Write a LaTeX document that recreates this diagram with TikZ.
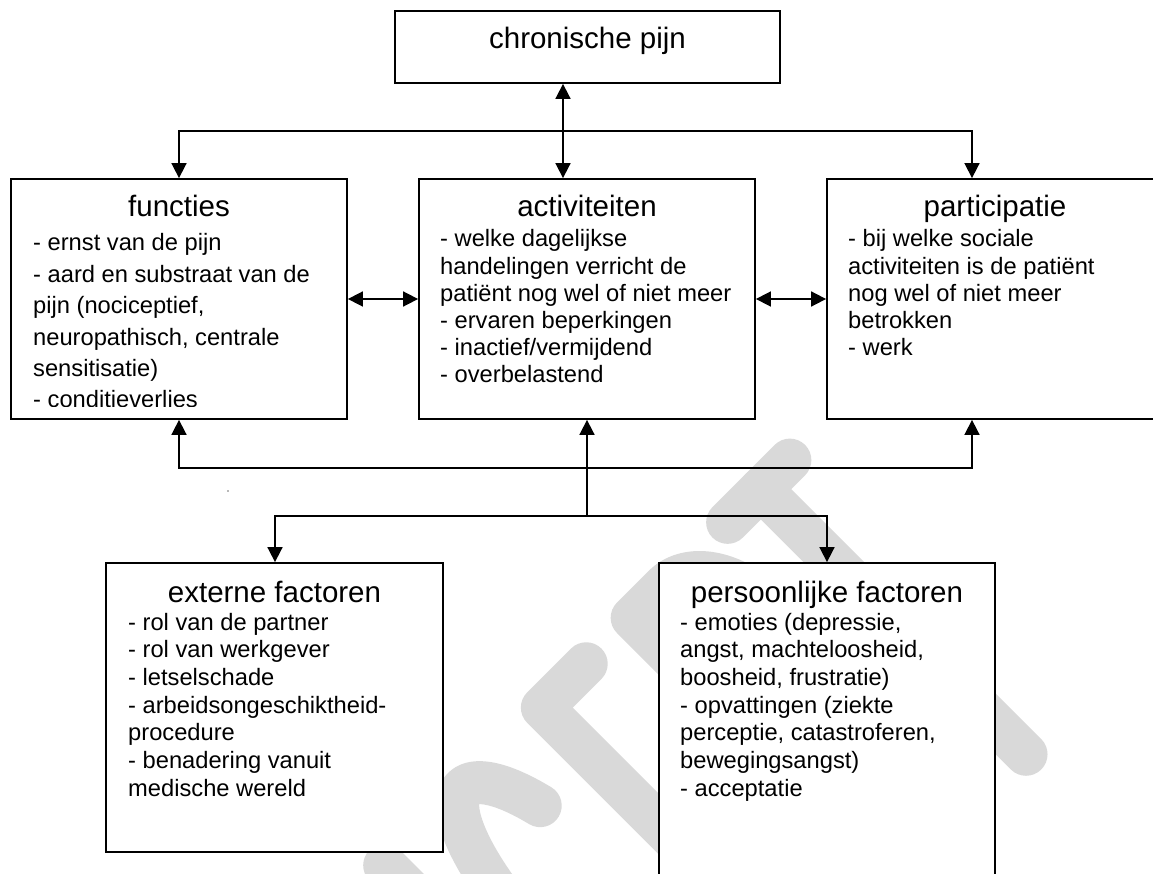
\documentclass[tikz,border=0pt]{standalone}
\usepackage{fontspec}
\setmainfont{Liberation Sans}
\usetikzlibrary{arrows.meta}
\newcommand\txtblock[2]{\vtop{\baselineskip=#1\relax #2}}
\tikzset{
  box/.style={draw=black, line width=1.8pt, fill=white, rectangle, inner sep=0pt},
  conn/.style={line width=1.7pt, draw=black, line cap=rect},
  arr/.style={conn, -{Triangle[length=15pt,width=15pt]}},
  darr/.style={conn, {Triangle[length=15pt,width=15pt]}-{Triangle[length=15pt,width=15pt]}},
  ttl/.style={anchor=base, inner sep=0pt, font=\fontsize{29.5}{35}\selectfont},
  body/.style={anchor=base west, inner sep=0pt, font=\fontsize{23.7}{28}\selectfont},
  wm/.style={draw=black!15, line width=43pt, line cap=round, line join=round},
}
\begin{document}
\begin{tikzpicture}[x=1pt,y=-1pt]
\useasboundingbox (0,0) rectangle (1153,874);
\clip (0,0) rectangle (1153,874);
\fill[white] (0,0) rectangle (1153,874);

% watermark (CONCEPT)
\begin{scope}[shift={(1043,767)}, x={(0.7071pt,0.7071pt)}, y={(-0.7071pt,0.7071pt)}]
  \draw[wm] (-645,21) -- (-645,396) -- (-535,21) -- (-535,396);
  \draw[wm] plot[domain=40:320, samples=60, smooth] ({-425+55*cos(\x)},{208+187*sin(\x)});
  \draw[wm] (-250,396) -- (-312,396) -- (-312,21) -- (-250,21);
  \draw[wm] (-312,208) -- (-258,208);
  \draw[wm] (-185,21) -- (-185,396) -- (-140,396)
    -- plot[domain=90:-90, samples=40, smooth] ({-140+60*cos(\x)},{311+85*sin(\x)}) -- (-185,226);
  \draw[wm] (-50,396) -- (38,396);
  \draw[wm] (-3,396) -- (-3,21);
\end{scope}

% stray dot
\fill[black!55] (228,491) circle (0.8pt);

% connector coordinates
\coordinate (cm) at (563,0);
\coordinate (tl) at (179,131);
\coordinate (tr) at (972,131);
\coordinate (bl) at (179,468);
\coordinate (br) at (972,468);
\coordinate (hub) at (587,516);
\coordinate (hl) at (275,516);
\coordinate (hr) at (827,516);

% connectors (drawn under boxes)
\draw[conn] (tl) -- (tr);
\draw[conn] (bl) -- (br);
\draw[conn] (hl) -- (hr);

% boxes
\node[box, minimum width=385pt, minimum height=72pt] (chron) at (587.5,47) {};
\node[box, minimum width=336pt, minimum height=240pt] (func) at (179,299) {};
\node[box, minimum width=336pt, minimum height=240pt] (act) at (587,299) {};
\node[box, minimum width=336pt, minimum height=240pt] (part) at (995,299) {};
\node[box, minimum width=337pt, minimum height=289pt] (ext) at (274.5,707.5) {};
\node[box, minimum width=336pt, minimum height=340pt] (pers) at (827,733) {};

% arrows
\draw[darr] (chron.south -| cm) -- (act.north -| cm);
\draw[arr] (tl) -- (func.north);
\draw[arr] (tr) -- (tr |- part.north);
\draw[darr] (func.east) -- (act.west);
\draw[darr] (act.east) -- (part.west);
\draw[arr] (bl) -- (func.south);
\draw[arr] (br) -- (br |- part.south);
\draw[arr] (hub) -- (act.south);
\draw[arr] (hl) -- (hl |- ext.north);
\draw[arr] (hr) -- (pers.north);

% titles
\node[ttl] (chront) at (587.5,49) {chronische pijn};
\node[ttl] (funct) at (179,217) {functies};
\node[ttl] (actt) at (587,217) {activiteiten};
\node[ttl] (partt) at (995,217) {participatie};
\node[ttl] (extt) at (274.5,602) {externe factoren};
\node[ttl] (perst) at (827,602) {persoonlijke factoren};

% body texts
\begin{scope}
  \clip (11,180) rectangle (347,406);
  \node[body] (funcb) at (33,251) {\txtblock{31.4pt}{%
    \hbox{- ernst van de pijn}%
    \hbox{- aard en substraat van de}%
    \hbox{pijn (nociceptief,}%
    \hbox{neuropathisch, centrale}%
    \hbox{sensitisatie)}%
    \hbox{- conditieverlies}}};
\end{scope}
\node[body] (actb) at (440,247) {\txtblock{27.2pt}{%
  \hbox{- welke dagelijkse}%
  \hbox{handelingen verricht de}%
  \hbox{patiënt nog wel of niet meer}%
  \hbox{- ervaren beperkingen}%
  \hbox{- inactief/vermijdend}%
  \hbox{- overbelastend}}};
\node[body] (partb) at (848,247) {\txtblock{27.2pt}{%
  \hbox{- bij welke sociale}%
  \hbox{activiteiten is de patiënt}%
  \hbox{nog wel of niet meer}%
  \hbox{betrokken}%
  \hbox{- werk}}};
\node[body] (extb) at (128,630) {\txtblock{27.7pt}{%
  \hbox{- rol van de partner}%
  \hbox{- rol van werkgever}%
  \hbox{- letselschade}%
  \hbox{- arbeidsongeschiktheid-}%
  \hbox{procedure}%
  \hbox{- benadering vanuit}%
  \hbox{medische wereld}}};
\node[body] (persb) at (680,630) {\txtblock{27.7pt}{%
  \hbox{- emoties (depressie,}%
  \hbox{angst, machteloosheid,}%
  \hbox{boosheid, frustratie)}%
  \hbox{- opvattingen (ziekte}%
  \hbox{perceptie, catastroferen,}%
  \hbox{bewegingsangst)}%
  \hbox{- acceptatie}}};
\end{tikzpicture}
\end{document}
